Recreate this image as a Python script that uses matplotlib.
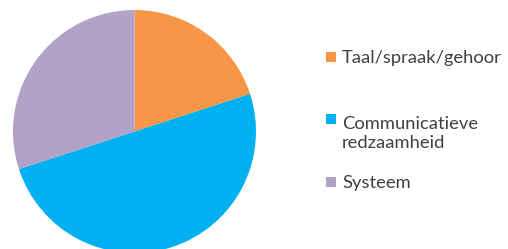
import matplotlib
matplotlib.use("Agg")
import matplotlib.pyplot as plt
from matplotlib.patches import Rectangle

# Data
labels = ["Taal/spraak/gehoor", "Communicatieve\nredzaamheid", "Systeem"]
values = [20, 50, 30]
colors = ["#F79646", "#00B0F0", "#B2A2C7"]

W, H = 508, 249
fig = plt.figure(figsize=(W / 100, H / 100), dpi=100)

# pie axes: centre about (134.5, 131.5) px, radius 121.5 px
cx, cy, r = 134.5, 131.5, 121.5
ax = fig.add_axes([(cx - r) / W, (H - cy - r) / H, 2 * r / W, 2 * r / H])
ax.pie(values, colors=colors, startangle=90, counterclock=False,
       radius=1, wedgeprops=dict(linewidth=0))
ax.set_xlim(-1, 1)
ax.set_ylim(-1, 1)
ax.set_aspect("equal")
ax.axis("off")

# legend drawn by hand (first line of each label lines up with its marker)
marker_y = [57, 119.5, 182]
sq = 10
fs = 13.2
line_px = 1.2 * fs * 100 / 72
for lab, col, y in zip(labels, colors, marker_y):
    fig.add_artist(Rectangle((326 / W, (H - y - sq / 2) / H), sq / W, sq / H,
                             transform=fig.transFigure, color=col, lw=0))
    # baseline of the last line
    base = y + 6 + lab.count("\n") * line_px
    fig.text(342 / W, (H - base) / H, lab, fontsize=fs, family="Lato",
             color="#404040", va="baseline", ha="left", linespacing=1.2)

fig.savefig("out.png", dpi=100)
